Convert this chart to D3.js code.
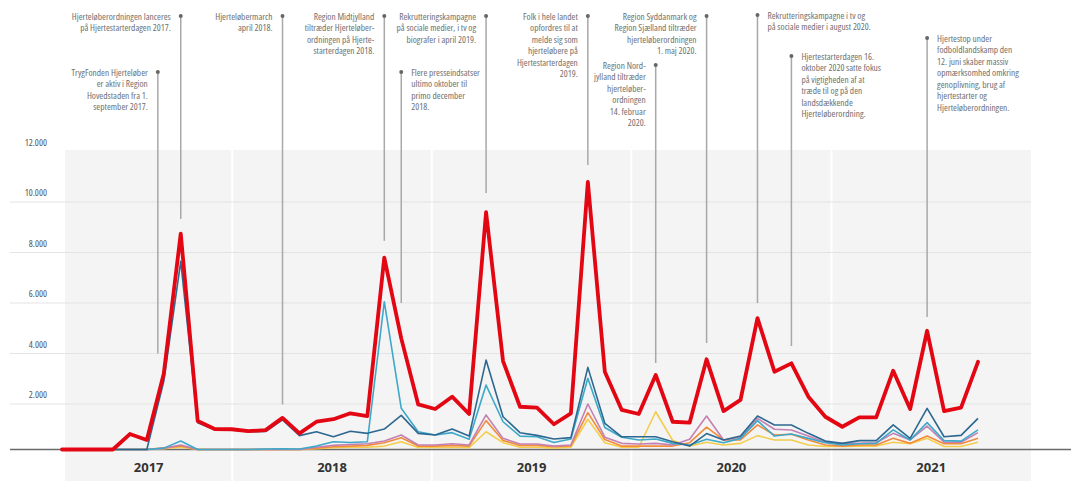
<!DOCTYPE html>
<html>
<head>
<meta charset="utf-8">
<script src="https://cdn.jsdelivr.net/npm/d3@7"></script>
<style>
  html, body { margin: 0; padding: 0; background: #fff; }
  svg { display: block; font-family: "Open Sans", sans-serif; }
  .note text { font-stretch: 78%; }
  .ylab { font-stretch: 75%; }
</style>
</head>
<body>
<svg id="chart" width="1071" height="481"></svg>
<script>
// monthly categories, March 2017 .. September 2021
const MONTHS = d3.timeMonth.range(new Date(2017, 2, 1), new Date(2021, 9, 1));
const YEARS = [2017, 2018, 2019, 2020, 2021];
const Y_TICKS = [2000, 4000, 6000, 8000, 10000, 12000];

// new hjerteløbere per month
const TOTAL = [0, 0, 0, 0, 680, 420, 3200, 8750, 1250, 900, 890, 810, 850, 1390, 710, 1220, 1330,
  1590, 1470, 7800, 4600, 1980, 1780, 2290, 1560, 9600, 3700, 1880, 1840, 1110, 1590, 10800, 3280,
  1740, 1560, 3150, 1220, 1180, 3770, 1690, 2160, 5400, 3280, 3610, 2290, 1440, 1000, 1410, 1410,
  3320, 1780, 4900, 1690, 1840, 3670];
const HOVEDSTADEN = [0, 0, 0, 0, 0, 0, 2900, 7650, 1180, 870, 860, 780, 790, 1300, 610, 780, 560,
  800, 710, 900, 1500, 710, 640, 900, 590, 3740, 1440, 740, 620, 460, 520, 3450, 1150,
  560, 560, 560, 340, 150, 700, 420, 590, 1470, 1080, 1080, 710, 370, 270, 390, 390,
  1080, 490, 1810, 560, 620, 1370];
const MIDTJYLLAND = [0, 0, 0, 0, 0, 0, 60, 370, 0, 0, 0, 0, 20, 30, 20, 150, 340,
  310, 340, 6050, 1810, 780, 640, 740, 450, 2750, 1220, 590, 560, 310, 460, 3020, 970,
  540, 420, 460, 270, 200, 450, 300, 490, 1270, 590, 680, 490, 300, 200, 250, 270,
  860, 420, 1180, 390, 370, 860];
const SYDDANMARK = [0, 0, 0, 0, 0, 0, 50, 200, 0, 0, 0, 0, 0, 0, 0, 100, 180,
  220, 250, 370, 640, 200, 200, 250, 200, 1520, 490, 240, 240, 150, 200, 2000, 540,
  270, 240, 270, 200, 450, 1470, 420, 540, 1370, 890, 860, 590, 320, 270, 270, 300,
  710, 420, 1030, 320, 320, 740];
const SJAELLAND = [0, 0, 0, 0, 0, 0, 80, 150, 0, 0, 0, 0, 0, 0, 0, 60, 120,
  150, 180, 300, 520, 150, 150, 180, 150, 1270, 400, 180, 180, 120, 160, 1620, 440,
  150, 150, 150, 150, 300, 980, 420, 420, 1080, 640, 670, 420, 200, 150, 200, 200,
  490, 270, 590, 250, 250, 490];
const NORDJYLLAND = [0, 0, 0, 0, 0, 0, 40, 100, 0, 0, 0, 0, 0, 0, 0, 40, 80,
  100, 100, 150, 340, 90, 90, 100, 80, 780, 300, 100, 100, 60, 100, 1330, 300,
  100, 100, 1660, 400, 150, 320, 200, 270, 610, 420, 420, 200, 130, 130, 150, 150,
  320, 250, 490, 130, 130, 320];

// drawn bottom to top
const REGIONS = [NORDJYLLAND, SJAELLAND, SYDDANMARK, MIDTJYLLAND, HOVEDSTADEN];
const REGION_COLORS = ['#f3cd4b', '#f28b3c', '#c480b3', '#3ea8c8', '#2d6891'];

// month index, value where the line stops, text
const NOTES = [
  { month: 7, end: 9330, lines: ['Hjerteløberordningen lanceres', 'på Hjertestarterdagen 2017.'] },
  { month: 5.65, end: 4000, lines: ['TrygFonden Hjerteløber', 'er aktiv i Region', 'Hovedstaden fra 1.', 'september 2017.'] },
  { month: 13, end: 1980, lines: ['Hjerteløbermarch', 'april 2018.'] },
  { month: 19, end: 8460, lines: ['Region Midtjylland', 'tiltræder Hjerteløber-', 'ordningen på Hjerte-', 'starterdagen 2018.'] },
  { month: 20, end: 6000, lines: ['Flere presseindsatser', 'ultimo oktober til', 'primo december', '2018.'] },
  { month: 25, end: 10360, lines: ['Rekrutteringskampagne', 'på sociale medier, i tv og', 'biografer i april 2019.'] },
  { month: 31, end: 11470, lines: ['Folk i hele landet', 'opfordres til at', 'melde sig som', 'hjerteløbere på', 'Hjertestarterdagen', '2019.'] },
  { month: 35, end: 3620, lines: ['Region Nord-', 'jylland tiltræder', 'hjerteløber-', 'ordningen', '14. februar', '2020.'] },
  { month: 38, end: 4420, lines: ['Region Syddanmark og', 'Region Sjælland tiltræder', 'hjerteløberordningen', '1. maj 2020.'] },
  { month: 41, end: 6000, lines: ['Rekrutteringskampagne i tv og', 'på sociale medier i august 2020.'] },
  { month: 43, end: 4300, lines: ['Hjertestarterdagen 16.', 'oktober 2020 satte fokus', 'på vigtigheden af at', 'træde til og på den', 'landsdækkende', 'Hjerteløberordning.'] },
  { month: 51, end: 5450, lines: ['Hjertestop under', 'fodboldlandskamp den', '12. juni skaber massiv', 'opmærksomhed omkring', 'genoplivning, brug af', 'hjertestarter og', 'Hjerteløberordningen.'] }
];
// top of each note line and which side the text sits on
const NOTE_LAYOUT = [
  [16, 'left'], [72, 'left'], [16, 'left'], [16, 'left'], [72, 'right'], [16, 'left'],
  [16, 'left'], [65, 'left'], [16, 'left'], [15, 'right'], [56, 'right'], [38, 'right']
];

const svg = d3.select('#chart');

const x = d3.scaleLinear().domain([0, MONTHS.length - 1]).range([62, 978]);
const y = d3.scaleLinear().domain([0, 2000, 12000]).range([449.5, 404, 151.5]);
const yearX = d3.scaleTime()
  .domain([MONTHS[0], new Date(YEARS[YEARS.length - 1] + 1, 0, 1)])
  .range([65, 1031]);

const panelTop = 150;
const panelLeft = yearX.range()[0];
const panelRight = yearX.range()[1];

// grey panel and white year dividers
svg.append('rect')
  .attr('x', panelLeft).attr('y', panelTop)
  .attr('width', panelRight - panelLeft).attr('height', 481 - panelTop)
  .attr('fill', '#f4f4f4');

svg.append('g').selectAll('line')
  .data(YEARS.slice(1))
  .join('line')
  .attr('x1', d => yearX(new Date(d, 0, 1)))
  .attr('x2', d => yearX(new Date(d, 0, 1)))
  .attr('y1', panelTop).attr('y2', 481)
  .attr('stroke', '#fff').attr('stroke-width', 2);

// gridlines + y labels
const grid = svg.append('g');
grid.selectAll('line')
  .data(Y_TICKS.slice(0, -1))
  .join('line')
  .attr('x1', 10).attr('x2', panelRight)
  .attr('y1', d => y(d)).attr('y2', d => y(d))
  .attr('stroke', '#e3e3e3').attr('stroke-width', 1);

grid.selectAll('text')
  .data(Y_TICKS)
  .join('text')
  .attr('class', 'ylab')
  .attr('x', 47)
  .attr('y', d => y(d) - 6)
  .attr('text-anchor', 'end')
  .attr('font-size', 9.5)
  .attr('fill', '#555')
  .text(d => d3.format(',')(d).replace(/,/g, '.'));

// year labels
svg.append('g').selectAll('text')
  .data(YEARS)
  .join('text')
  .attr('x', d => {
    const x0 = Math.max(panelLeft, yearX(new Date(d, 0, 1)));
    const x1 = yearX(new Date(d + 1, 0, 1));
    return (x0 + x1) / 2;
  })
  .attr('y', 471.5)
  .attr('text-anchor', 'middle')
  .attr('font-size', 13)
  .attr('font-weight', 700)
  .attr('fill', '#333')
  .text(d => d);

// annotations
const notes = svg.append('g').attr('class', 'note')
  .selectAll('g')
  .data(NOTES)
  .join('g');

notes.append('line')
  .attr('x1', d => x(d.month)).attr('x2', d => x(d.month))
  .attr('y1', (d, i) => NOTE_LAYOUT[i][0])
  .attr('y2', d => y(d.end))
  .attr('stroke', '#a8a8a8').attr('stroke-width', 1.5);

notes.append('circle')
  .attr('cx', d => x(d.month))
  .attr('cy', (d, i) => NOTE_LAYOUT[i][0])
  .attr('r', 2)
  .attr('fill', '#666');

notes.each(function (d, i) {
  const [top, side] = NOTE_LAYOUT[i];
  const left = side === 'left';
  d3.select(this).append('text')
    .attr('text-anchor', left ? 'end' : 'start')
    .attr('font-size', 9.4)
    .attr('fill', '#707070')
    .selectAll('tspan')
    .data(d.lines)
    .join('tspan')
    .attr('x', x(d.month) + (left ? -10 : 10))
    .attr('y', (_, j) => top + 3.5 + j * 11.5)
    .text(t => t);
});

// baseline
svg.append('line')
  .attr('x1', 10).attr('x2', 1071)
  .attr('y1', y(0)).attr('y2', y(0))
  .attr('stroke', '#6a6a6a').attr('stroke-width', 1.5);

// series
const line = d3.line()
  .x((d, i) => x(i))
  .y(d => y(d));

svg.append('g').selectAll('path')
  .data(REGIONS)
  .join('path')
  .attr('d', line)
  .attr('fill', 'none')
  .attr('stroke', (d, i) => REGION_COLORS[i])
  .attr('stroke-width', 1.6)
  .attr('stroke-linejoin', 'round');

svg.append('path')
  .datum(TOTAL)
  .attr('d', line)
  .attr('fill', 'none')
  .attr('stroke', '#e30613')
  .attr('stroke-width', 3.8)
  .attr('stroke-linejoin', 'round')
  .attr('stroke-linecap', 'round');
</script>
</body>
</html>
